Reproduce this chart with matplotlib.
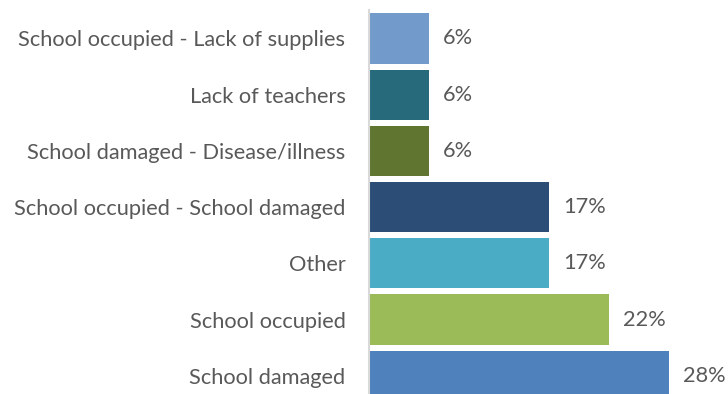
import matplotlib
matplotlib.use("Agg")
import matplotlib.pyplot as plt

categories = [
    "School damaged",
    "School occupied",
    "Other",
    "School occupied - School damaged",
    "School damaged - Disease/illness",
    "Lack of teachers",
    "School occupied - Lack of supplies",
]
values = [27.78, 22.22, 16.67, 16.67, 5.56, 5.56, 5.56]
labels = ["28%", "22%", "17%", "17%", "6%", "6%", "6%"]
colors = ["#4F81BD", "#9BBB59", "#4BACC6", "#2C4D75", "#5F7530", "#276A7C", "#729ACA"]

plt.rcParams["font.family"] = ["Lato", "DejaVu Sans"]
text_color = "#595959"
fs = 15.7

fig = plt.figure(figsize=(7.28, 3.94), dpi=100)
ax = fig.add_axes([369 / 728, 0, 359 / 728, 384 / 394])

y = list(range(len(categories)))
ax.barh(y, values, height=0.89, color=colors)
ax.set_xlim(0, 359 / 10.8)
ax.set_ylim(-(394 - 375.7) / 56.2, 6 + (38.5 - 10) / 56.2)

for yi, v, lab in zip(y, values, labels):
    ax.text(v + 14 / 10.8, yi, lab, va="center", ha="left",
            fontsize=fs, color=text_color)

ax.set_yticks(y)
ax.set_yticklabels(categories, fontsize=fs, color=text_color)
ax.tick_params(axis="y", length=0, pad=17)
ax.set_xticks([])
for s in ["top", "right", "bottom"]:
    ax.spines[s].set_visible(False)
ax.spines["left"].set_color("#D9D9D9")
ax.spines["left"].set_linewidth(1.5)

fig.savefig("out.png", dpi=100)
